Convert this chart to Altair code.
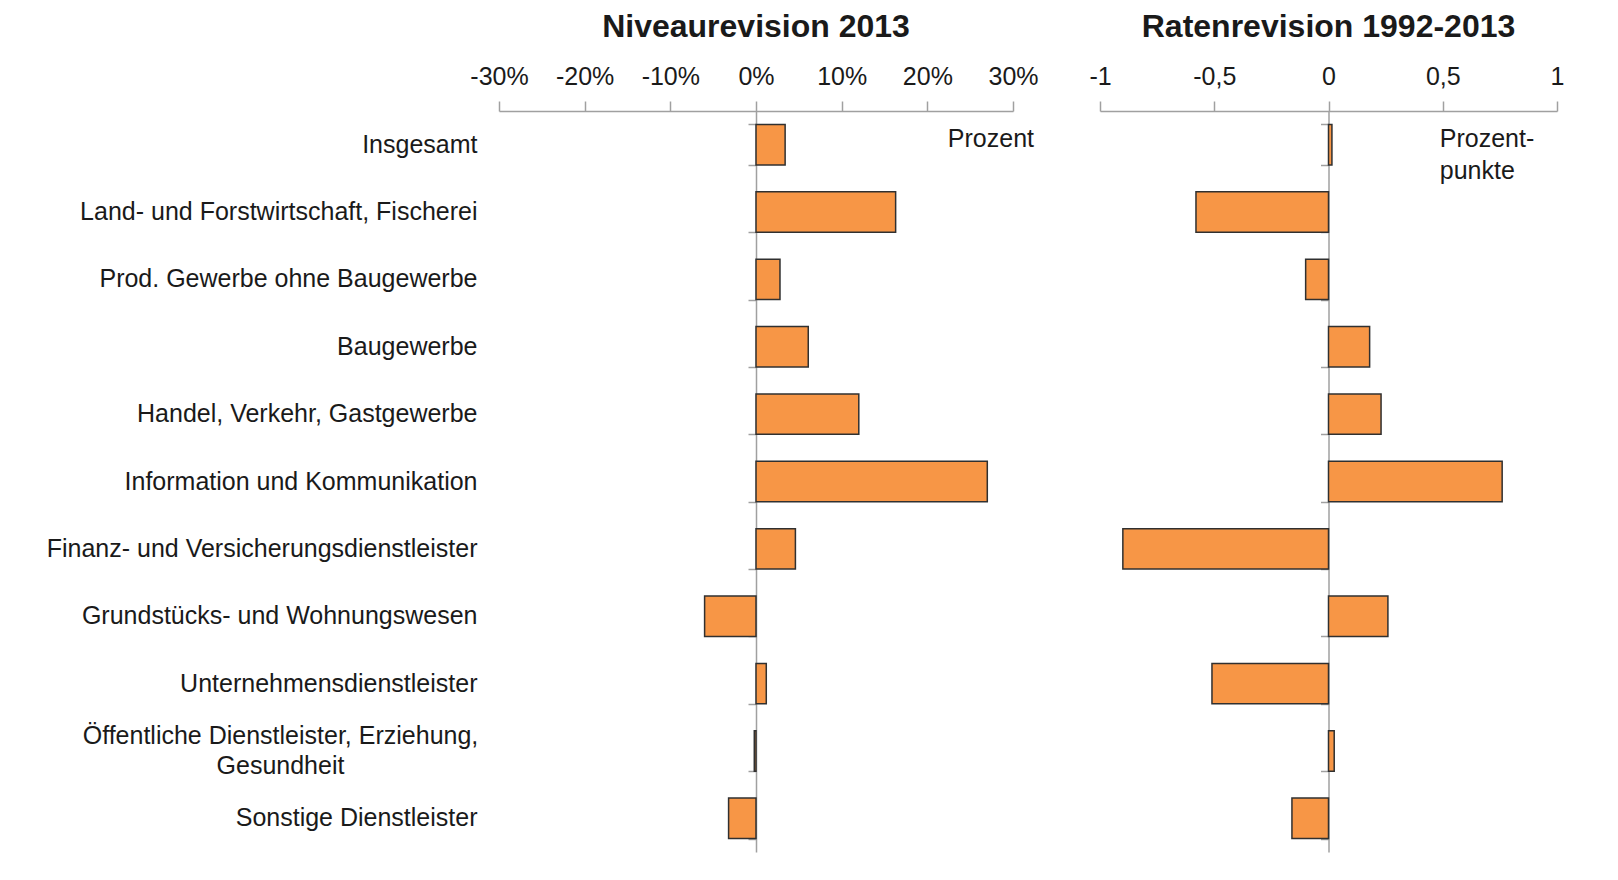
import altair as alt
import pandas as pd

categories = [
    "Insgesamt",
    "Land- und Forstwirtschaft, Fischerei",
    "Prod. Gewerbe ohne Baugewerbe",
    "Baugewerbe",
    "Handel, Verkehr, Gastgewerbe",
    "Information und Kommunikation",
    "Finanz- und Versicherungsdienstleister",
    "Grundstücks- und Wohnungswesen",
    "Unternehmensdienstleister",
    "Öffentliche Dienstleister, Erziehung,\nGesundheit",
    "Sonstige Dienstleister",
]
niveau = [3.4, 16.3, 2.8, 6.1, 12.0, 27.0, 4.6, -6.0, 1.2, -0.2, -3.2]
raten = [0.015, -0.58, -0.10, 0.18, 0.23, 0.76, -0.90, 0.26, -0.51, 0.025, -0.16]
niveau_ticks = [-30, -20, -10, 0, 10, 20, 30]
raten_ticks = [-1, -0.5, 0, 0.5, 1]
titles = ["Niveaurevision 2013", "Ratenrevision 1992-2013"]
unit_notes = ["Prozent", "Prozent-\npunkte"]

df = pd.DataFrame({"kategorie": categories, "niveau": niveau, "raten": raten})

ORANGE = "#F79646"
STROKE = "#303030"
GREY = "#a0a0a0"
TEXT = "#1a1a1a"
FONT = "Liberation Sans"
FS = 25

H = 741
WL = 514
WR = 457

multi_test = "indexof(datum.value, '\\n') > 0"
cat_label_expr = "split(datum.label, '\\n')"

yscale = alt.Scale(paddingInner=0.4, paddingOuter=0.2)


def panel(field, domain, ticks, width, title, label_expr, show_labels, note, note_x, note_align, note_dx, note_dy):
    base = alt.Chart(df)
    xscale = alt.Scale(domain=domain, nice=False)
    xaxis = alt.Axis(
        orient="top", values=ticks, labelExpr=label_expr, title=None, grid=False,
        domainColor=GREY, domainWidth=1.5, tickColor=GREY, tickWidth=1.5, tickSize=10,
        labelPadding=12, labelFontSize=FS, labelColor=TEXT, labelFont=FONT,
        labelOverlap=False, labelFlush=False,
    )
    if show_labels:
        yaxis = alt.Axis(
            title=None, ticks=False, domain=False, labelLimit=0,
            labelExpr=cat_label_expr, labelFontSize=FS, labelColor=TEXT, labelFont=FONT,
            labelLineHeight=30,
            labelAlign={"condition": {"test": multi_test, "value": "center"}, "value": "right"},
            labelPadding={"condition": {"test": multi_test, "value": 219}, "value": 22},
            labelOffset={"condition": {"test": multi_test, "value": -15}, "value": 0},
        )
    else:
        yaxis = None
    bars = base.mark_bar(color=ORANGE, stroke=STROKE, strokeWidth=1.5).encode(
        x=alt.X(f"{field}:Q", scale=xscale, axis=xaxis),
        y=alt.Y("kategorie:N", sort=categories, scale=yscale, axis=yaxis),
    )
    zero = base.mark_bar(opacity=0).encode(
        x=alt.X(f"{field}:Q", scale=xscale, axis=xaxis),
        y=alt.Y(
            "kategorie:N", sort=categories,
            axis=alt.Axis(
                title=None, labels=False, domain=True, ticks=True, tickBand="extent",
                offset=-width / 2, orient="left", domainColor=GREY, domainWidth=1.5,
                tickColor=GREY, tickWidth=1.5, tickSize=8,
            ),
        ),
    )
    note_df = pd.DataFrame({"t": [note], "x": [note_x], "kategorie": [categories[0]]})
    notes = alt.Chart(note_df).mark_text(
        align=note_align, baseline="middle", fontSize=FS, font=FONT, color=TEXT,
        dx=note_dx, dy=note_dy, lineBreak="\n", lineHeight=32,
    ).encode(
        x=alt.X("x:Q", scale=xscale, axis=xaxis),
        y=alt.Y("kategorie:N", sort=categories, axis=None),
        text="t:N",
    )
    return alt.layer(bars, zero, notes).resolve_axis(y="independent").properties(
        width=width, height=H,
        title=alt.Title(title, fontSize=32, fontWeight="bold", font=FONT, color=TEXT,
                        anchor="middle", frame="group", offset=20),
    )


left = panel("niveau", [-30, 30], niveau_ticks, WL, titles[0], "datum.value + '%'", True,
             unit_notes[0], 30, "right", 21, -6)
right = panel("raten", [-1, 1], raten_ticks, WR, titles[1],
              "replace(toString(datum.value), '.', ',')", False,
              unit_notes[1], 0.5, "left", -3, -6)

chart = alt.hconcat(left, right, spacing=87, bounds="flush").configure_view(
    stroke=None
).properties(padding={"left": 38, "top": 3, "right": 5, "bottom": 5})

chart.save("out.html", embed_options={"renderer": "svg", "actions": False})
